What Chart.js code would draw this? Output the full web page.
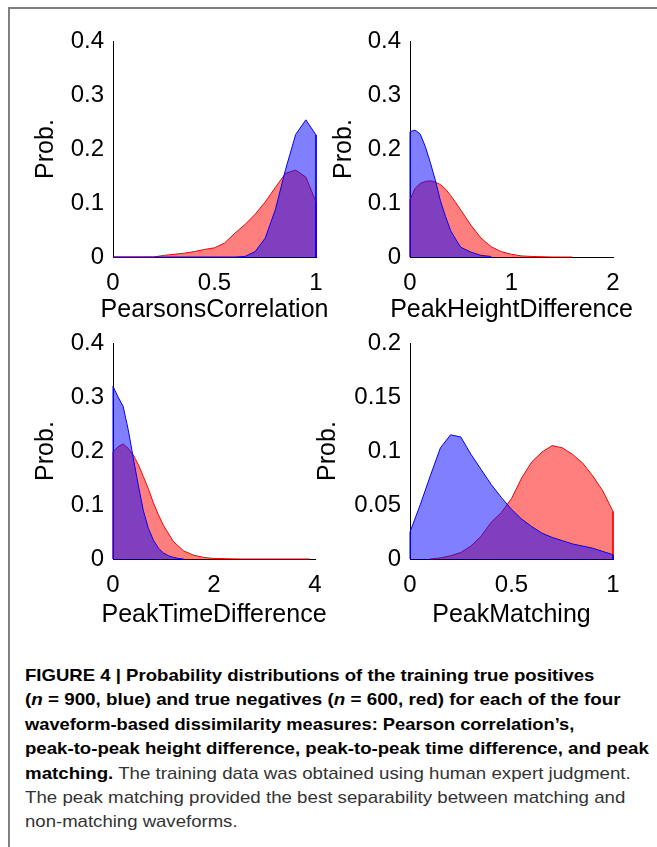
<!DOCTYPE html>
<html>
<head>
<meta charset="utf-8">
<script src="https://cdn.jsdelivr.net/npm/chart.js@4/dist/chart.umd.min.js"></script>
<style>
  body { margin: 0; background: #fff; width: 657px; height: 847px; position: relative; overflow: hidden;
         font-family: "Liberation Sans", Arial, Helvetica, sans-serif; }
  .frame { position: absolute; left: 8px; top: 7px; right: 0; bottom: 0;
           border-top: 2px solid #808080; border-left: 2px solid #808080; }
  canvas { position: absolute; }
  #caption { position: absolute; left: 25px; top: 664px; font-size: 17px; line-height: 24.4px; color: #333; }
  #caption div { white-space: nowrap; height: 24.4px; }
  #caption .ln { display: inline-block; transform-origin: 0 50%; }
  #caption b { color: #000; }
</style>
</head>
<body>
<div class="frame"></div>
<canvas id="c1" width="330" height="320" style="left:10px;top:10px"></canvas>
<canvas id="c2" width="335" height="320" style="left:310px;top:10px"></canvas>
<canvas id="c3" width="330" height="320" style="left:10px;top:312px"></canvas>
<canvas id="c4" width="335" height="320" style="left:310px;top:312px"></canvas>

<div id="caption">
  <div><span class="ln" data-w="569"><b>FIGURE 4 | Probability distributions of the training true positives</b></span></div>
  <div><span class="ln" data-w="596"><b>(<i>n</i> = 900, blue) and true negatives (<i>n</i> = 600, red) for each of the four</b></span></div>
  <div><span class="ln" data-w="550"><b>waveform-based dissimilarity measures: Pearson correlation’s,</b></span></div>
  <div><span class="ln" data-w="624"><b>peak-to-peak height difference, peak-to-peak time difference, and peak</b></span></div>
  <div><span class="ln" data-w="606"><b>matching.</b> The training data was obtained using human expert judgment.</span></div>
  <div><span class="ln" data-w="600">The peak matching provided the best separability between matching and</span></div>
  <div><span class="ln" data-w="213">non-matching waveforms.</span></div>
</div>

<script>
// --- PearsonsCorrelation ---
const pcBlueX = [0, 0.05, 0.1, 0.15, 0.2, 0.25, 0.3, 0.35, 0.4, 0.45, 0.5, 0.55, 0.6, 0.65, 0.7, 0.75, 0.8, 0.85, 0.9, 0.95, 1, 1];
const pcBlue  = [0, 0, 0, 0, 0, 0, 0, 0, 0, 0, 0, 0, 0, 0.001, 0.01, 0.035, 0.088, 0.162, 0.227, 0.254, 0.226, 0];
const pcRedX  = [0, 0.05, 0.1, 0.15, 0.2, 0.25, 0.3, 0.35, 0.4, 0.45, 0.5, 0.55, 0.6, 0.65, 0.7, 0.75, 0.8, 0.85, 0.9, 0.95, 1, 1];
const pcRed   = [0, 0, 0, 0, 0, 0.003, 0.005, 0.007, 0.01, 0.014, 0.017, 0.026, 0.044, 0.06, 0.079, 0.102, 0.129, 0.155, 0.161, 0.148, 0.102, 0];

// --- PeakHeightDifference ---
const phBlueX = [0, 0, 0.05, 0.1, 0.15, 0.2, 0.25, 0.3, 0.35, 0.4, 0.45, 0.5, 0.6, 0.7, 0.8];
const phBlue  = [0, 0.232, 0.235, 0.228, 0.205, 0.175, 0.142, 0.104, 0.075, 0.049, 0.033, 0.018, 0.009, 0.003, 0.001];
const phRedX  = [0, 0, 0.05, 0.1, 0.15, 0.2, 0.25, 0.3, 0.35, 0.4, 0.45, 0.5, 0.6, 0.7, 0.8, 0.9, 1, 1.1, 1.2, 1.4, 1.6];
const phRed   = [0, 0.106, 0.127, 0.136, 0.14, 0.141, 0.139, 0.134, 0.126, 0.114, 0.101, 0.087, 0.059, 0.035, 0.019, 0.01, 0.005, 0.002, 0.001, 0, 0];

// --- PeakTimeDifference ---
const ptBlueX = [0, 0, 0.1, 0.2, 0.3, 0.4, 0.5, 0.6, 0.7, 0.8, 0.9, 1, 1.1, 1.2, 1.3, 1.4];
const ptBlue  = [0, 0.32, 0.3, 0.283, 0.24, 0.188, 0.137, 0.09, 0.057, 0.035, 0.02, 0.011, 0.006, 0.003, 0.001, 0];
const ptRedX  = [0, 0, 0.1, 0.2, 0.3, 0.4, 0.5, 0.6, 0.7, 0.8, 0.9, 1, 1.2, 1.4, 1.6, 1.8, 2, 2.5, 3, 3.5, 3.9];
const ptRed   = [0, 0.198, 0.208, 0.213, 0.205, 0.193, 0.175, 0.153, 0.13, 0.104, 0.082, 0.062, 0.032, 0.015, 0.007, 0.003, 0.001, 0, 0, 0, 0];

// --- PeakMatching ---
const pmBlueX = [0, 0, 0.05, 0.1, 0.15, 0.2, 0.25, 0.3, 0.35, 0.4, 0.45, 0.5, 0.55, 0.6, 0.65, 0.7, 0.75, 0.8, 0.85, 0.9, 0.95, 1, 1];
const pmBlue  = [0, 0.025, 0.05, 0.077, 0.103, 0.115, 0.113, 0.097, 0.083, 0.069, 0.057, 0.046, 0.037, 0.03, 0.024, 0.02, 0.017, 0.014, 0.012, 0.01, 0.007, 0.004, 0];
const pmRedX  = [0.1, 0.15, 0.2, 0.25, 0.3, 0.35, 0.4, 0.45, 0.5, 0.55, 0.6, 0.65, 0.7, 0.75, 0.8, 0.85, 0.9, 0.95, 1, 1];
const pmRed   = [0, 0.001, 0.003, 0.006, 0.012, 0.021, 0.034, 0.043, 0.056, 0.075, 0.09, 0.099, 0.105, 0.103, 0.097, 0.089, 0.077, 0.063, 0.044, 0];

// tick labels
const pcXTicks = [0, 0.5, 1];
const phXTicks = [0, 1, 2];
const ptXTicks = [0, 2, 4];
const pmXTicks = [0, 0.5, 1];
const probTicks = [0, 0.1, 0.2, 0.3, 0.4];
const pmYTicks = [0, 0.05, 0.1, 0.15, 0.2];

const FONT = '"Liberation Sans", Arial, Helvetica, sans-serif';

function toPoints(xs, ys) {
  return xs.map((x, i) => ({ x: x, y: ys[i] }));
}

// chart.js squeezes axis titles to the axis width, the matlab labels overhang it
const xLabelPlugin = {
  id: "xLabel",
  afterDraw(chart, args, opts) {
    const { ctx, chartArea } = chart;
    ctx.save();
    ctx.font = "25px " + FONT;
    ctx.fillStyle = "#000";
    ctx.textAlign = "center";
    ctx.textBaseline = "middle";
    ctx.fillText(opts.text, (chartArea.left + chartArea.right) / 2, chart.height - 15 - opts.pad);
    ctx.restore();
  }
};

function renderPanel(id, xTitle, blueX, blue, redX, red, xTicks, yTicks, box) {
  new Chart(document.getElementById(id), {
    type: "line",
    data: {
      datasets: [
        { data: toPoints(blueX, blue), borderColor: "#0000ff", backgroundColor: "rgba(0,0,255,0.5)", fill: "origin" },
        { data: toPoints(redX, red), borderColor: "#ff0000", backgroundColor: "rgba(255,0,0,0.5)", fill: "origin" }
      ]
    },
    plugins: [xLabelPlugin],
    options: {
      responsive: false,
      animation: false,
      events: [],
      elements: { point: { radius: 0 }, line: { borderWidth: 1, tension: 0 } },
      datasets: { line: { clip: false } },
      layout: { padding: { top: 31, right: box.right, left: 0, bottom: 0 } },
      plugins: {
        legend: { display: false },
        tooltip: { enabled: false },
        xLabel: { text: xTitle, pad: box.xTitlePad }
      },
      scales: {
        x: {
          type: "linear",
          min: xTicks[0],
          max: xTicks[xTicks.length - 1],
          grid: { display: false, drawTicks: false },
          border: { color: "#000", width: 1 },
          afterBuildTicks: (s) => { s.ticks = xTicks.map((v) => ({ value: v })); },
          afterFit: (s) => { s.height = 73; },
          ticks: { padding: 12, color: "#000", maxRotation: 0, autoSkip: false,
                   font: { size: 24, family: FONT }, callback: (v) => String(v) }
        },
        y: {
          min: yTicks[0],
          max: yTicks[yTicks.length - 1],
          grid: { display: false, drawTicks: false },
          border: { color: "#000", width: 1 },
          afterBuildTicks: (s) => { s.ticks = yTicks.map((v) => ({ value: v })); },
          afterFit: (s) => { s.width = box.yWidth; },
          ticks: { padding: 9, color: "#000", autoSkip: false,
                   font: { size: 24, family: FONT }, callback: (v) => String(v) },
          title: { display: true, text: "Prob.", color: "#000",
                   font: { size: 25, family: FONT }, padding: { top: box.yTitlePad, bottom: 0 } }
        }
      }
    }
  });
}

renderPanel("c1", "PearsonsCorrelation", pcBlueX, pcBlue, pcRedX, pcRed, pcXTicks, probTicks,
  { right: 24, yWidth: 103, yTitlePad: 21, xTitlePad: 5 });
renderPanel("c2", "PeakHeightDifference", phBlueX, phBlue, phRedX, phRed, phXTicks, probTicks,
  { right: 32, yWidth: 100, yTitlePad: 19, xTitlePad: 5 });
renderPanel("c3", "PeakTimeDifference", ptBlueX, ptBlue, ptRedX, ptRed, ptXTicks, probTicks,
  { right: 25, yWidth: 103, yTitlePad: 21, xTitlePad: 2 });
renderPanel("c4", "PeakMatching", pmBlueX, pmBlue, pmRedX, pmRed, pmXTicks, pmYTicks,
  { right: 32, yWidth: 100, yTitlePad: 3, xTitlePad: 2 });

// squeeze caption lines to the printed line widths (condensed face in the original)
document.querySelectorAll("#caption .ln").forEach((el) => {
  const w = +el.dataset.w;
  el.style.transform = "scaleX(" + (w / el.offsetWidth).toFixed(3) + ")";
});
</script>
</body>
</html>
